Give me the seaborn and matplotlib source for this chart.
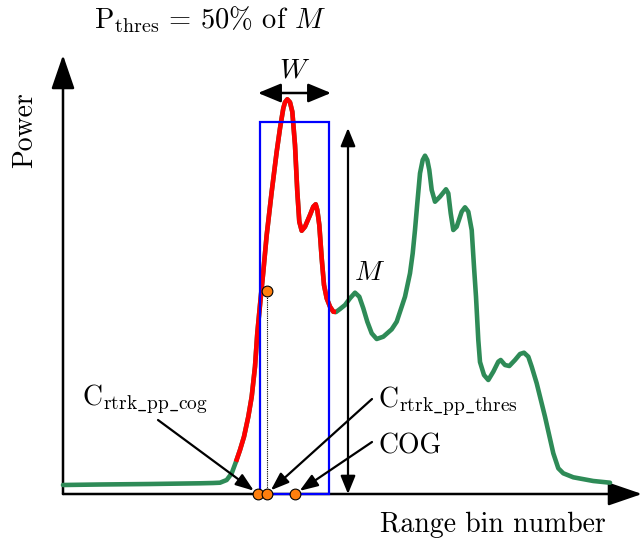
import matplotlib
matplotlib.use("Agg")
import matplotlib.pyplot as plt
import numpy as np
import pandas as pd
import seaborn as sns
from matplotlib.patches import Rectangle

# Received power profile over range bins
range_bins = [0, 37, 87, 137, 150, 157, 163.7, 168.7, 173, 177, 181, 185.3, 188.7, 192,
              194.3, 197, 200.3, 203.7, 208.7, 213.7, 217, 220.3, 222, 224.3, 227, 229.3,
              232, 234.3, 236.3, 238.7, 242, 247, 250.3, 252.7, 254.3, 256.3, 258.7, 261,
              263.7, 267, 270.3, 273, 277, 282, 287, 292, 296.3, 300.3, 304.3, 308.7,
              313.7, 320.3, 328.7, 333.7, 338.7, 342, 347, 349.7, 352, 354.3, 357, 359.7,
              362, 364.3, 366.3, 368.7, 372, 377, 383, 385.3, 387.7, 390.3, 393.7, 398.7,
              402, 405.3, 408.7, 411, 413, 415.3, 417, 421, 425.3, 430.3, 435.3, 437.7,
              442, 446.3, 452, 457, 461, 465.3, 468.7, 473.7, 482, 490.3, 495.3, 500.3,
              510.3, 530.3, 547]
power = [9, 9.5, 10, 10.7, 11, 11.3, 14, 20.7, 32.3, 44, 57.3, 77.3, 97.3, 127.3,
         160.7, 189, 222.3, 259, 302.3, 342.3, 365.7, 385.7, 391.7, 394.7, 391.7, 382.3,
         349, 302.3, 272.3, 263.3, 267.3, 279, 287.3, 289.7, 284, 269, 235.7, 209,
         195.7, 187.3, 182.3, 182, 185, 189, 195.7, 201.3, 197.3, 185.7, 172.3, 160.7,
         155, 157.3, 164.7, 172.3, 187.3, 197.3, 220.7, 240.7, 264, 290.7, 320.7, 334,
         338.3, 334, 324, 304, 292.3, 297.3, 304.7, 300.7, 280.7, 264, 267.3, 282.3,
         286.7, 282.3, 264, 227.3, 197.3, 154, 132, 119, 114, 122.3, 132.3, 134,
         129, 128, 134, 140, 141.3, 137.3, 127.3, 110.7, 77.3, 40.7, 25.7, 20.7,
         16.7, 13, 11.3]

# Highlighted target segment
target_start, target_end = 173, 273

# Processing window and peak magnitude
window_start, window_end = 197, 266
window_height = 372
peak_M = 366

# Range estimates
c_cog = 195.3
c_thres = 203.7
cog = 232
thres_power = 203

df = pd.DataFrame({"bin": range_bins, "power": power})
seg = df[(df["bin"] >= target_start) & (df["bin"] <= target_end)]

sns.set_theme(style="white")
plt.rcParams["font.family"] = ["cmr10", "DejaVu Serif"]
plt.rcParams["mathtext.fontset"] = "cm"
plt.rcParams["axes.formatter.use_mathtext"] = True
plt.rcParams["text.color"] = "black"

fig = plt.figure(figsize=(6.42, 5.38), dpi=100)
ax = fig.add_axes([0, 0, 1, 1])
ax.set_xlim(-63, 579)
ax.set_ylim(-44, 494)
ax.axis("off")

# Axes with arrow heads
axis_arrow = dict(arrowstyle="-|>,head_length=2.1,head_width=0.72",
                  mutation_scale=10, lw=1.8, color="black", shrinkA=0, shrinkB=0)
ax.annotate("", xy=(579, 0), xytext=(0, 0), arrowprops=axis_arrow, zorder=2)
ax.annotate("", xy=(0, 439), xytext=(0, 0), arrowprops=axis_arrow, zorder=2)

line_kw = dict(estimator=None, sort=False, lw=3.3, legend=False)
sns.lineplot(data=df, x="bin", y="power", color="#2e8b57", ax=ax,
             solid_joinstyle="round", solid_capstyle="round", zorder=3, **line_kw)
sns.lineplot(data=seg, x="bin", y="power", color="#ff0000", ax=ax,
             solid_joinstyle="round", solid_capstyle="butt", zorder=4, **line_kw)

# Window
ax.add_patch(Rectangle((window_start, 0), window_end - window_start, window_height,
                       fill=False, edgecolor="#0000ff", lw=1.6, zorder=5))

# Threshold projection
ax.plot([c_thres, c_thres], [0, thres_power], color="black", lw=0.8,
        linestyle=(0, (1, 1)), zorder=5)

pts = pd.DataFrame({"bin": [c_cog, c_thres, cog, c_thres],
                    "power": [0, 0, 0, thres_power]})
sns.scatterplot(data=pts, x="bin", y="power", color="#ff7f0e", edgecolor="black",
                linewidth=0.8, s=60, ax=ax, zorder=7, legend=False)
ax.set_xlabel("")
ax.set_ylabel("")

# Width arrow
ax.annotate("", xy=(window_end + 2, 401), xytext=(window_start - 2, 401),
            arrowprops=dict(arrowstyle="<|-|>,head_length=1.4,head_width=0.58",
                            mutation_scale=10, lw=1.8, color="black",
                            shrinkA=0, shrinkB=0))
ax.text((window_start + window_end) / 2, 424, r"$W$", fontsize=20,
        ha="center", va="center")

# Magnitude arrow
ax.annotate("", xy=(285, peak_M), xytext=(285, 0),
            arrowprops=dict(arrowstyle="<|-|>,head_length=1.1,head_width=0.45",
                            mutation_scale=10, lw=1.6, color="black",
                            shrinkA=0, shrinkB=0))
ax.text(307, 221, r"$M$", fontsize=20, ha="center", va="center")

# Pointers to the estimates
arrow_kw = dict(arrowstyle="-|>,head_length=1.1,head_width=0.4", mutation_scale=10,
                lw=1.6, color="black", shrinkA=0, shrinkB=4)
ax.annotate("", xy=(c_cog, 0), xytext=(95, 74), arrowprops=arrow_kw, zorder=6)
ax.annotate("", xy=(c_thres, 0), xytext=(309, 95), arrowprops=arrow_kw, zorder=6)
ax.annotate("", xy=(cog, 0), xytext=(309, 52), arrowprops=arrow_kw, zorder=6)

ax.text(18.7, 89, r"$\mathrm{C}_{\mathrm{rtrk\_pp\_cog}}$", fontsize=20,
        ha="left", va="baseline")
ax.text(315, 87, r"$\mathrm{C}_{\mathrm{rtrk\_pp\_thres}}$", fontsize=20,
        ha="left", va="baseline")
ax.text(315, 41, "COG", fontsize=20, ha="left", va="baseline")

ax.text(317, -37.7, "Range bin number", fontsize=20, ha="left", va="baseline")
ax.text(-38, 364, "Power", fontsize=20, ha="center", va="center", rotation=90)
ax.text(147, 474, r"$\mathrm{P}_{\mathrm{thres}} \,=\, 50\%$ of $M$", fontsize=20.5,
        ha="center", va="center")

fig.savefig("out.png", dpi=100)
